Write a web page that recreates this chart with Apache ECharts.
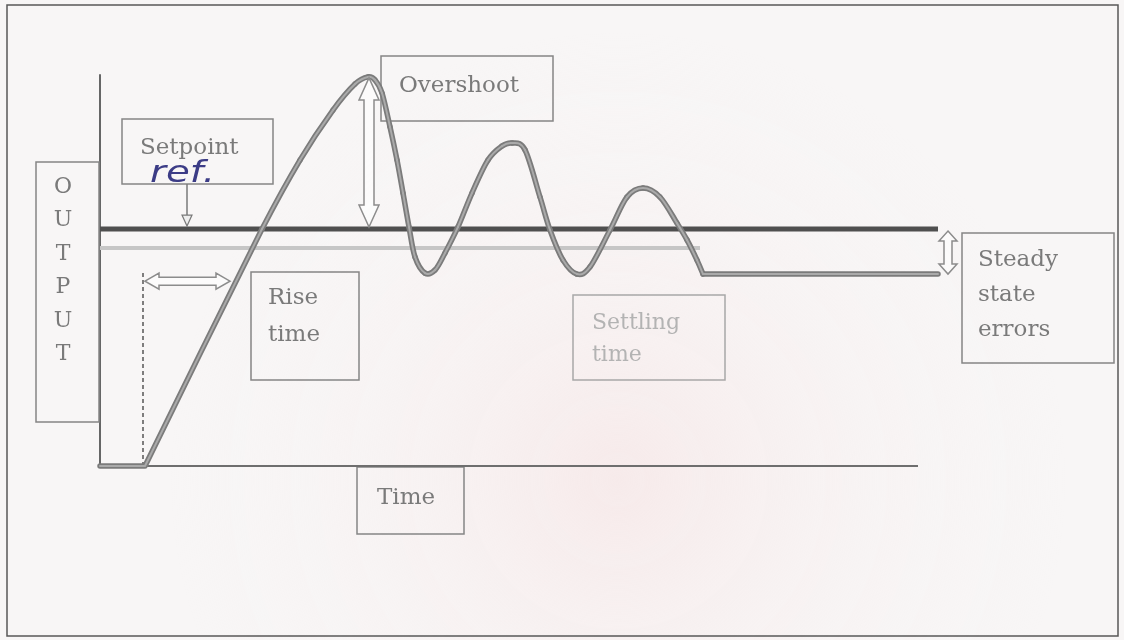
<!DOCTYPE html>
<html>
<head>
<meta charset="utf-8">
<script src="https://cdn.jsdelivr.net/npm/echarts/dist/echarts.min.js"></script>
<style>
  html, body { margin: 0; padding: 0; background: #f8f6f6; }
  #chart { width: 1124px; height: 640px; }
</style>
</head>
<body>
<div id="chart"></div>
<script>
// Step response of a closed loop: output vs time
// Initial dead time + linear rise up to the setpoint
const riseT = [0, 4.5, 10, 16.2];
const riseY = [0, 0, 0.473, 1.0];
// Damped ringing around the setpoint
const ringT = [16.2, 20, 23.3, 25.5, 26.8, 27.5, 28.2, 29, 29.7, 30.3, 30.9, 31.5, 32.5, 33.5, 34.5, 35.8, 37.2, 38.8, 40.2, 41.2, 42.5, 44, 45, 46.3, 47.7, 49, 51, 52.7, 54.3, 56, 57.7, 58.7, 59.7, 60.3];
const ringY = [1.0, 1.291, 1.502, 1.612, 1.642, 1.629, 1.574, 1.431, 1.291, 1.152, 1.009, 0.882, 0.814, 0.827, 0.899, 1.009, 1.152, 1.291, 1.35, 1.363, 1.334, 1.135, 0.996, 0.869, 0.81, 0.84, 0.996, 1.135, 1.173, 1.135, 1.025, 0.954, 0.869, 0.81];
// Settled output (below the setpoint: steady state error)
const steadyT = [60.3, 83.8];
const steadyY = [0.81, 0.81];
// Setpoint reference and the faint band line under it
const setpointT = [0, 83.8];
const setpointY = [1.0, 1.0];
const bandT = [0, 60];
const bandY = [0.92, 0.92];
// Time axis extent
const timeAxisT = [0, 81.8];
const timeAxisY = [0, 0];

// Annotation anchors (time, output)
const peakT = 26.8;
const steadyErrT = 84.8;
const riseArrowT = [4.5, 13.0];
const riseArrowY = 0.78;
const riseMarkT = 4.3;
const riseMarkTop = 0.82;
const setpointPointerT = 8.7;

const pairs = (xs, ys) => xs.map((x, i) => [x, ys[i]]);

const chart = echarts.init(document.getElementById('chart'));

const curveOuter = '#7b7b7b', curveInner = '#aaaaaa';
const outerW = 5.5, innerW = 2;

function straight(name, xs, ys, inner) {
  return {
    name, type: 'line', data: pairs(xs, ys), smooth: false,
    symbol: 'none', silent: true, z: inner ? 6 : 5, clip: false,
    lineStyle: { color: inner ? curveInner : curveOuter, width: inner ? innerW : outerW, cap: 'round', join: 'round' }
  };
}

// Ringing point j, continuing from the rise on the left and holding the last point on the right
function ringPoint(j) {
  if (j < 0) return [riseT[riseT.length - 2], riseY[riseY.length - 2]];
  if (j >= ringT.length) return [ringT[ringT.length - 1], ringY[ringY.length - 1]];
  return [ringT[j], ringY[j]];
}

// One cubic segment per pair of neighbouring points (Catmull-Rom tangents)
function ringCurve(name, inner) {
  return {
    name, type: 'custom', coordinateSystem: 'cartesian2d', silent: true, z: inner ? 6 : 5,
    data: pairs(ringT.slice(0, -1), ringY.slice(0, -1)),
    encode: { x: 0, y: 1 },
    renderItem(params, api) {
      const i = params.dataIndex;
      const p0 = api.coord(ringPoint(i - 1));
      const p1 = api.coord(ringPoint(i));
      const p2 = api.coord(ringPoint(i + 1));
      const p3 = api.coord(ringPoint(i + 2));
      return {
        type: 'bezierCurve',
        shape: {
          x1: p1[0], y1: p1[1], x2: p2[0], y2: p2[1],
          cpx1: p1[0] + (p2[0] - p0[0]) / 6, cpy1: p1[1] + (p2[1] - p0[1]) / 6,
          cpx2: p2[0] - (p3[0] - p1[0]) / 6, cpy2: p2[1] - (p3[1] - p1[1]) / 6
        },
        style: { fill: 'none', stroke: inner ? curveInner : curveOuter,
                 lineWidth: inner ? innerW : outerW, lineCap: 'round' }
      };
    }
  };
}

chart.setOption({
  animation: false,
  backgroundColor: 'transparent',
  grid: { left: 100, right: 164, top: 75, bottom: 174 },
  xAxis: {
    type: 'value', min: 0, max: 86,
    axisLine: { show: false }, axisTick: { show: false },
    axisLabel: { show: false }, splitLine: { show: false }
  },
  yAxis: {
    type: 'value', min: 0, max: 1.65,
    axisLine: { show: true, lineStyle: { color: '#666', width: 2 } },
    axisTick: { show: false }, axisLabel: { show: false }, splitLine: { show: false }
  },
  series: [
    { name: 'time axis', type: 'line', data: pairs(timeAxisT, timeAxisY), symbol: 'none', silent: true, z: 3,
      lineStyle: { color: '#6e6e6e', width: 2 } },
    { name: 'band', type: 'line', data: pairs(bandT, bandY), symbol: 'none', silent: true, z: 3,
      lineStyle: { color: '#c6c6c6', width: 4 } },
    { name: 'setpoint', type: 'line', data: pairs(setpointT, setpointY), symbol: 'none', silent: true, z: 4,
      lineStyle: { color: '#4f4f4f', width: 5 } },
    straight('rise', riseT, riseY, false),
    ringCurve('ring', false),
    straight('steady', steadyT, steadyY, false),
    straight('rise-in', riseT, riseY, true),
    ringCurve('ring-in', true),
    straight('steady-in', steadyT, steadyY, true)
  ]
});

const px = (t, y) => chart.convertToPixel({ gridIndex: 0 }, [t, y]);

// Hollow double-headed block arrows
function vArrow(cx, y1, y2, hw, sw, hl) {
  return [[cx, y1], [cx + hw, y1 + hl], [cx + sw, y1 + hl], [cx + sw, y2 - hl], [cx + hw, y2 - hl],
          [cx, y2], [cx - hw, y2 - hl], [cx - sw, y2 - hl], [cx - sw, y1 + hl], [cx - hw, y1 + hl]];
}
function hArrow(cy, x1, x2, hh, sh, hl) {
  return [[x1, cy], [x1 + hl, cy - hh], [x1 + hl, cy - sh], [x2 - hl, cy - sh], [x2 - hl, cy - hh],
          [x2, cy], [x2 - hl, cy + hh], [x2 - hl, cy + sh], [x1 + hl, cy + sh], [x1 + hl, cy + hh]];
}
const arrowStyle = { fill: 'rgba(255,255,255,0.55)', stroke: '#8c8c8c', lineWidth: 1.5 };

const serif = '"DejaVu Serif", "Liberation Serif", serif';
const textGray = '#7a7a7a';
function box(x, y, w, h, stroke) {
  return { type: 'rect', shape: { x, y, width: w, height: h }, z: 2,
           style: { fill: 'none', stroke: stroke || '#858585', lineWidth: 1.5 } };
}
function label(text, x, y, color, size) {
  return { type: 'text', z: 10, style: { text, x, y, fill: color || textGray, fontSize: size || 23,
           fontFamily: serif, align: 'left', verticalAlign: 'middle' } };
}

const peak = px(peakT, Math.max(...ringY));
const sp = px(peakT, setpointY[0]);
const sse1 = px(steadyErrT, setpointY[0]);
const sse2 = px(steadyErrT, steadyY[0]);
const ra1 = px(riseArrowT[0], riseArrowY);
const ra2 = px(riseArrowT[1], riseArrowY);
const rm0 = px(riseMarkT, 0);
const rm1 = px(riseMarkT, riseMarkTop);
const ptr = px(setpointPointerT, setpointY[0]);

const outputLetters = ['O', 'U', 'T', 'P', 'U', 'T'];

const elements = [
  // paper tint
  { type: 'rect', shape: { x: 0, y: 0, width: 1124, height: 640 }, z: -10, silent: true,
    style: { fill: { type: 'radial', x: 0.55, y: 0.75, r: 0.7,
      colorStops: [{ offset: 0, color: 'rgba(246,230,230,0.75)' }, { offset: 1, color: 'rgba(248,246,246,0)' }] } } },
  // outer frame
  { type: 'rect', shape: { x: 7, y: 5, width: 1111, height: 631 }, z: 1,
    style: { fill: 'none', stroke: '#585858', lineWidth: 1.5 } },

  // overshoot arrow: peak down to setpoint
  { type: 'polygon', z: 7, shape: { points: vArrow(peak[0] + 1, peak[1] + 1, sp[1] - 2, 10, 5, 22) }, style: arrowStyle },
  // steady state error arrow
  { type: 'polygon', z: 7, shape: { points: vArrow(sse1[0], sse1[1] + 2, sse2[1], 9, 4, 10) }, style: arrowStyle },
  // rise time arrow
  { type: 'polygon', z: 7, shape: { points: hArrow(ra1[1], ra1[0], ra2[0], 8, 4, 14) }, style: arrowStyle },
  // rise time start marker
  { type: 'line', z: 4, shape: { x1: rm0[0], y1: rm0[1], x2: rm1[0], y2: rm1[1] },
    style: { stroke: '#555', lineWidth: 1.5, lineDash: [4, 3] } },
  // setpoint pointer
  { type: 'line', z: 4, shape: { x1: ptr[0], y1: 184, x2: ptr[0], y2: ptr[1] - 4 },
    style: { stroke: '#7a7a7a', lineWidth: 1.5 } },
  { type: 'polygon', z: 5, shape: { points: [[ptr[0] - 5, ptr[1] - 14], [ptr[0] + 5, ptr[1] - 14], [ptr[0], ptr[1] - 3]] },
    style: { fill: '#eeeeee', stroke: '#7a7a7a', lineWidth: 1.2 } },

  // text boxes
  box(122, 119, 151, 65),
  label('Setpoint', 140, 148),
  { type: 'text', z: 11, scaleX: 1.25, x: 150, y: 174,
    style: { text: 'ref.', x: 0, y: 0, fill: '#3c3c86', fontSize: 31, fontStyle: 'italic',
             fontFamily: '"DejaVu Sans", sans-serif', align: 'left', verticalAlign: 'middle' } },

  box(381, 56, 172, 65),
  label('Overshoot', 399, 86),

  box(36, 162, 63, 260),
  ...outputLetters.map((c, i) => ({ type: 'text', z: 10,
    style: { text: c, x: 63, y: 187 + i * 33.5, fill: textGray, fontSize: 22, fontFamily: serif,
             align: 'center', verticalAlign: 'middle' } })),

  box(251, 272, 108, 108),
  label('Rise', 268, 298),
  label('time', 268, 335),

  box(573, 295, 152, 85, '#a8a8a8'),
  label('Settling', 592, 323, '#b3b3b3', 22),
  label('time', 592, 355, '#b3b3b3', 22),

  box(357, 467, 107, 67),
  label('Time', 377, 498),

  box(962, 233, 152, 130),
  label('Steady', 978, 260),
  label('state', 978, 295),
  label('errors', 978, 330)
];

chart.setOption({ graphic: { elements } });
</script>
</body>
</html>
